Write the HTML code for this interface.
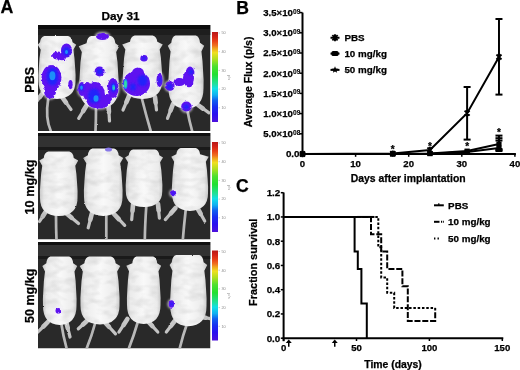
<!DOCTYPE html>
<html><head><meta charset="utf-8"><style>
html,body{margin:0;padding:0;background:#fff;}
body{width:520px;height:370px;overflow:hidden;}
svg{display:block;}
</style></head><body>
<svg width="520" height="370" viewBox="0 0 520 370">
<defs>
<linearGradient id="cbar" x1="0" y1="0" x2="0" y2="1">
<stop offset="0" stop-color="#b81818"/><stop offset="0.05" stop-color="#d42418"/><stop offset="0.1" stop-color="#e84018"/>
<stop offset="0.15" stop-color="#f07020"/><stop offset="0.18" stop-color="#f0a020"/><stop offset="0.23" stop-color="#f0e020"/>
<stop offset="0.3" stop-color="#b0e020"/><stop offset="0.38" stop-color="#50e030"/><stop offset="0.47" stop-color="#20e030"/>
<stop offset="0.58" stop-color="#20e0a0"/><stop offset="0.63" stop-color="#10e0e8"/><stop offset="0.7" stop-color="#10b0f0"/>
<stop offset="0.76" stop-color="#1060f0"/><stop offset="0.83" stop-color="#1830f0"/><stop offset="0.91" stop-color="#2810f0"/>
<stop offset="1" stop-color="#4c10dc"/>
</linearGradient>
<clipPath id="clipP1"><rect x="38" y="25" width="172.5" height="106"/></clipPath>
<clipPath id="clipP2"><rect x="38" y="133" width="172.5" height="106.5"/></clipPath>
<clipPath id="clipP3"><rect x="38" y="242" width="172.5" height="106.5"/></clipPath>
<filter id="soft" x="-10%" y="-10%" width="120%" height="120%" color-interpolation-filters="sRGB"><feTurbulence type="fractalNoise" baseFrequency="0.35" numOctaves="2" seed="7" result="t"/><feDisplacementMap in="SourceGraphic" in2="t" scale="1.6" xChannelSelector="R" yChannelSelector="G" result="d"/><feTurbulence type="fractalNoise" baseFrequency="0.08 0.14" numOctaves="2" seed="11" result="n"/><feColorMatrix in="n" type="matrix" values="0 0 0 0 0.6  0 0 0 0 0.6  0 0 0 0 0.6  0.5 0 0 0 -0.21" result="sh"/><feComposite in="sh" in2="d" operator="in" result="shin"/><feMerge result="m"><feMergeNode in="d"/><feMergeNode in="shin"/></feMerge><feGaussianBlur in="m" stdDeviation="0.6"/></filter>
<filter id="soft2" x="-10%" y="-10%" width="120%" height="120%" color-interpolation-filters="sRGB"><feTurbulence type="fractalNoise" baseFrequency="0.4" numOctaves="2" seed="3" result="t"/><feDisplacementMap in="SourceGraphic" in2="t" scale="2.6" xChannelSelector="R" yChannelSelector="G"/><feGaussianBlur stdDeviation="0.35"/></filter>
<filter id="soft3" x="-20%" y="-20%" width="140%" height="140%"><feGaussianBlur stdDeviation="0.9"/></filter>
<filter id="soft4" x="-20%" y="-20%" width="140%" height="140%"><feGaussianBlur stdDeviation="0.7"/></filter>
<filter id="halo" x="-20%" y="-20%" width="140%" height="140%"><feGaussianBlur stdDeviation="1.2"/></filter>
<linearGradient id="mbody" x1="0" y1="0" x2="1" y2="0"><stop offset="0" stop-color="#c8c8c8"/><stop offset="0.12" stop-color="#ebebeb"/><stop offset="0.5" stop-color="#f9f9f9"/><stop offset="0.88" stop-color="#ebebeb"/><stop offset="1" stop-color="#c8c8c8"/></linearGradient>
</defs>
<text x="0.5" y="12.6" font-size="17.8" font-family="'Liberation Sans', Arial, sans-serif" font-weight="bold" stroke="#000" stroke-width="0.25">A</text>
<text x="236.3" y="13.9" font-size="17.6" font-family="'Liberation Sans', Arial, sans-serif" font-weight="bold" stroke="#000" stroke-width="0.25">B</text>
<text x="236.0" y="191.6" font-size="17.6" font-family="'Liberation Sans', Arial, sans-serif" font-weight="bold" stroke="#000" stroke-width="0.25">C</text>
<text x="120.5" y="20.2" text-anchor="middle" font-size="11.8" font-family="'Liberation Sans', Arial, sans-serif" font-weight="bold" stroke="#000" stroke-width="0.25">Day 31</text>
<text transform="translate(34 79.8) rotate(-90)" text-anchor="middle" font-size="12.5" font-family="'Liberation Sans', Arial, sans-serif" font-weight="bold" stroke="#000" stroke-width="0.25">PBS</text>
<text transform="translate(34 187) rotate(-90)" text-anchor="middle" font-size="12.7" font-family="'Liberation Sans', Arial, sans-serif" font-weight="bold" stroke="#000" stroke-width="0.25">10 mg/kg</text>
<text transform="translate(34 295.8) rotate(-90)" text-anchor="middle" font-size="12.5" font-family="'Liberation Sans', Arial, sans-serif" font-weight="bold" stroke="#000" stroke-width="0.25">50 mg/kg</text>
<g clip-path="url(#clipP1)">
<rect x="38" y="25" width="172.5" height="106" fill="#292929"/>
<rect x="38" y="25" width="172.5" height="4" fill="#0c0c0c"/>
<rect x="38" y="29" width="172.5" height="6" fill="#1e1e1e"/>
<g filter="url(#soft)">
<line x1="42" y1="94" x2="39.75" y2="97.15" stroke="#c8c8c8" stroke-width="4.6" stroke-linecap="round"/>
<line x1="39.75" y1="97.15" x2="37" y2="101" stroke="#c4c4c4" stroke-width="3.2" stroke-linecap="round"/>
<line x1="62" y1="97" x2="66.05" y2="102.62" stroke="#c8c8c8" stroke-width="4.6" stroke-linecap="round"/>
<line x1="66.05" y1="102.62" x2="71" y2="109.5" stroke="#c4c4c4" stroke-width="3.2" stroke-linecap="round"/>
<path d="M48.2,99 Q45,118 50.8,131" fill="none" stroke="#bababa" stroke-width="2.7" stroke-linecap="round"/>
<path d="M44.42,36.00 L68.10,36.00 Q71.80,36.63 72.54,42.30 L76.24,44.82 L73.28,49.86 Q74.76,58.05 75.13,67.50 Q75.87,75.06 75.50,81.36 Q75.50,98.37 57.00,99.00 Q38.50,98.37 38.50,81.36 Q38.13,75.06 38.87,67.50 Q39.24,58.05 40.72,49.86 L37.76,44.82 L39.98,42.30 Q40.72,36.63 44.42,36.00 Z" fill="url(#mbody)"/>
<line x1="86.8" y1="105" x2="83.16" y2="110.98" stroke="#c8c8c8" stroke-width="4.6" stroke-linecap="round"/>
<line x1="83.16" y1="110.98" x2="78.7" y2="118.3" stroke="#c4c4c4" stroke-width="3.2" stroke-linecap="round"/>
<line x1="108.5" y1="105" x2="108.95" y2="112.20" stroke="#c8c8c8" stroke-width="4.6" stroke-linecap="round"/>
<line x1="108.95" y1="112.20" x2="109.5" y2="121" stroke="#c4c4c4" stroke-width="3.2" stroke-linecap="round"/>
<path d="M96,108 Q96,120 95.5,131" fill="none" stroke="#bababa" stroke-width="2.7" stroke-linecap="round"/>
<path d="M91.20,36.00 L110.70,36.00 Q114.60,36.73 115.38,43.25 L119.28,46.15 L116.16,51.95 Q117.72,61.38 118.11,72.25 Q118.89,80.95 118.50,88.20 Q118.50,107.78 99.00,108.50 Q79.50,107.78 79.50,88.20 Q79.11,80.95 79.89,72.25 Q80.28,61.38 81.84,51.95 L78.72,46.15 L86.52,43.25 Q87.30,36.73 91.20,36.00 Z" fill="url(#mbody)"/>
<line x1="129" y1="96" x2="126.30" y2="102.30" stroke="#c8c8c8" stroke-width="4.6" stroke-linecap="round"/>
<line x1="126.30" y1="102.30" x2="123" y2="110" stroke="#c4c4c4" stroke-width="3.2" stroke-linecap="round"/>
<line x1="155" y1="97" x2="155.68" y2="102.85" stroke="#c8c8c8" stroke-width="4.6" stroke-linecap="round"/>
<line x1="155.68" y1="102.85" x2="156.5" y2="110" stroke="#c4c4c4" stroke-width="3.2" stroke-linecap="round"/>
<path d="M142,99 Q146,115 150.7,131" fill="none" stroke="#bababa" stroke-width="2.7" stroke-linecap="round"/>
<path d="M134.70,35.50 L152.64,35.50 Q156.54,36.13 157.32,41.85 L162.78,44.39 L159.66,49.47 Q161.22,57.72 161.61,67.25 Q162.39,74.87 162.00,81.22 Q162.00,98.37 142.50,99.00 Q123.00,98.37 123.00,81.22 Q122.61,74.87 123.39,67.25 Q123.78,57.72 125.34,49.47 L122.22,44.39 L130.02,41.85 Q130.80,36.13 134.70,35.50 Z" fill="url(#mbody)"/>
<line x1="173" y1="104" x2="170.53" y2="110.48" stroke="#c8c8c8" stroke-width="4.6" stroke-linecap="round"/>
<line x1="170.53" y1="110.48" x2="167.5" y2="118.4" stroke="#c4c4c4" stroke-width="3.2" stroke-linecap="round"/>
<line x1="198" y1="105" x2="202.95" y2="108.56" stroke="#c8c8c8" stroke-width="4.6" stroke-linecap="round"/>
<line x1="202.95" y1="108.56" x2="209" y2="112.9" stroke="#c4c4c4" stroke-width="3.2" stroke-linecap="round"/>
<path d="M186.9,108 Q189,120 192.4,132" fill="none" stroke="#bababa" stroke-width="2.7" stroke-linecap="round"/>
<path d="M175.50,35.50 L195.80,35.50 Q199.30,36.23 200.00,42.82 L204.20,45.75 L201.40,51.60 Q202.80,61.12 203.15,72.10 Q203.85,80.88 203.50,88.20 Q203.50,107.97 186.00,108.70 Q168.50,107.97 168.50,88.20 Q168.15,80.88 168.85,72.10 Q169.20,61.12 170.60,51.60 L167.80,45.75 L171.30,42.82 Q172.00,36.23 175.50,35.50 Z" fill="url(#mbody)"/>
</g>
<g filter="url(#halo)" opacity="0.7">
<ellipse cx="66.5" cy="50.5" rx="6.8" ry="8.3" fill="#f4eeff"/>
<ellipse cx="57.5" cy="55.5" rx="6.8" ry="5.3" fill="#f4eeff"/>
<ellipse cx="62" cy="57" rx="5.3" ry="4.5" fill="#f4eeff"/>
<ellipse cx="51.5" cy="78" rx="11.3" ry="14.3" fill="#f4eeff"/>
<ellipse cx="50" cy="91" rx="7.3" ry="8.8" fill="#f4eeff"/>
<ellipse cx="70.5" cy="84.6" rx="3.5" ry="5.8999999999999995" fill="#f4eeff"/>
<ellipse cx="102.5" cy="36.5" rx="7.8" ry="4.8" fill="#f4eeff"/>
<ellipse cx="99.6" cy="71.5" rx="6.3" ry="6.3" fill="#f4eeff"/>
<ellipse cx="95" cy="95" rx="11.3" ry="14.3" fill="#f4eeff"/>
<ellipse cx="82" cy="89" rx="5.1" ry="8.3" fill="#f4eeff"/>
<ellipse cx="113" cy="88" rx="6.8" ry="11.3" fill="#f4eeff"/>
<ellipse cx="100" cy="103" rx="10.3" ry="6.8" fill="#f4eeff"/>
<ellipse cx="88" cy="94" rx="6.3" ry="7.3" fill="#f4eeff"/>
<ellipse cx="107" cy="99" rx="6.3" ry="6.3" fill="#f4eeff"/>
<ellipse cx="87" cy="87" rx="5.3" ry="6.3" fill="#f4eeff"/>
<ellipse cx="144" cy="58.2" rx="4.9" ry="4.5" fill="#f4eeff"/>
<ellipse cx="136.5" cy="83.5" rx="14.8" ry="13.8" fill="#f4eeff"/>
<ellipse cx="128" cy="84" rx="6.3" ry="9.3" fill="#f4eeff"/>
<ellipse cx="138" cy="73" rx="7.3" ry="6.8" fill="#f4eeff"/>
<ellipse cx="159.5" cy="80" rx="4.3" ry="8.3" fill="#f4eeff"/>
<ellipse cx="170" cy="86" rx="5.8999999999999995" ry="6.1" fill="#f4eeff"/>
<ellipse cx="179.5" cy="82" rx="7.3" ry="5.3" fill="#f4eeff"/>
<ellipse cx="190" cy="73" rx="5.6" ry="7.8" fill="#f4eeff"/>
<ellipse cx="189" cy="83" rx="5.6" ry="5.6" fill="#f4eeff"/>
<ellipse cx="188.5" cy="78" rx="6.8" ry="8.8" fill="#f4eeff"/>
<ellipse cx="186.4" cy="106.5" rx="6.5" ry="6.3" fill="#f4eeff"/>
</g>
<g filter="url(#soft2)">
<ellipse cx="66.5" cy="50.5" rx="5.5" ry="7" fill="#5e12f0"/>
<ellipse cx="57.5" cy="55.5" rx="5.5" ry="4" fill="#5e12f0"/>
<ellipse cx="62" cy="57" rx="4" ry="3.2" fill="#5e12f0"/>
<ellipse cx="51.5" cy="78" rx="10" ry="13" fill="#5e12f0"/>
<ellipse cx="50" cy="91" rx="6" ry="7.5" fill="#5e12f0"/>
<ellipse cx="70.5" cy="84.6" rx="2.2" ry="4.6" fill="#5e12f0"/>
<ellipse cx="102.5" cy="36.5" rx="6.5" ry="3.5" fill="#5e12f0"/>
<ellipse cx="99.6" cy="71.5" rx="5" ry="5" fill="#5e12f0"/>
<ellipse cx="95" cy="95" rx="10" ry="13" fill="#5e12f0"/>
<ellipse cx="82" cy="89" rx="3.8" ry="7" fill="#5e12f0"/>
<ellipse cx="113" cy="88" rx="5.5" ry="10" fill="#5e12f0"/>
<ellipse cx="100" cy="103" rx="9" ry="5.5" fill="#5e12f0"/>
<ellipse cx="88" cy="94" rx="5" ry="6" fill="#5e12f0"/>
<ellipse cx="107" cy="99" rx="5" ry="5" fill="#5e12f0"/>
<ellipse cx="87" cy="87" rx="4" ry="5" fill="#5e12f0"/>
<ellipse cx="144" cy="58.2" rx="3.6" ry="3.2" fill="#5e12f0"/>
<ellipse cx="136.5" cy="83.5" rx="13.5" ry="12.5" fill="#5e12f0"/>
<ellipse cx="128" cy="84" rx="5" ry="8" fill="#5e12f0"/>
<ellipse cx="138" cy="73" rx="6" ry="5.5" fill="#5e12f0"/>
<ellipse cx="159.5" cy="80" rx="3" ry="7" fill="#5e12f0"/>
<ellipse cx="170" cy="86" rx="4.6" ry="4.8" fill="#5e12f0"/>
<ellipse cx="179.5" cy="82" rx="6" ry="4" fill="#5e12f0"/>
<ellipse cx="190" cy="73" rx="4.3" ry="6.5" fill="#5e12f0"/>
<ellipse cx="189" cy="83" rx="4.3" ry="4.3" fill="#5e12f0"/>
<ellipse cx="188.5" cy="78" rx="5.5" ry="7.5" fill="#5e12f0"/>
<ellipse cx="186.4" cy="106.5" rx="5.2" ry="5" fill="#5e12f0"/>
</g>
<g filter="url(#soft3)">
<ellipse cx="66.5" cy="51.5" rx="4" ry="4.5" fill="#2224fa"/>
<ellipse cx="52.5" cy="76.5" rx="6" ry="9" fill="#2224fa"/>
<ellipse cx="99.6" cy="71.5" rx="3" ry="3" fill="#2224fa"/>
<ellipse cx="94" cy="96" rx="6" ry="7.5" fill="#2224fa"/>
<ellipse cx="81.5" cy="87.5" rx="2.2" ry="3.5" fill="#2224fa"/>
<ellipse cx="113.5" cy="87.5" rx="3" ry="5" fill="#2224fa"/>
<ellipse cx="144" cy="58.2" rx="2" ry="1.8" fill="#2224fa"/>
<ellipse cx="142.5" cy="80.5" rx="5" ry="5.5" fill="#2224fa"/>
<ellipse cx="133" cy="87" rx="3" ry="3.5" fill="#2224fa"/>
<ellipse cx="160" cy="80.5" rx="1.5" ry="3.5" fill="#2224fa"/>
<ellipse cx="169.5" cy="86.5" rx="2.8" ry="2.8" fill="#2224fa"/>
<ellipse cx="191" cy="72" rx="2.2" ry="2.8" fill="#2224fa"/>
<ellipse cx="186.4" cy="106.8" rx="2.8" ry="2.6" fill="#2224fa"/>
</g>
<g filter="url(#soft4)">
<ellipse cx="66.5" cy="52" rx="1.5" ry="2" fill="#1c90f8"/>
<ellipse cx="52.4" cy="75.7" rx="3" ry="4.5" fill="#1c90f8"/>
<ellipse cx="96" cy="98.5" rx="2.5" ry="3.2" fill="#1c90f8"/>
<ellipse cx="81.5" cy="87.6" rx="1.3" ry="2.2" fill="#1c90f8"/>
<ellipse cx="113.5" cy="87.5" rx="1.5" ry="3" fill="#1c90f8"/>
<ellipse cx="125.5" cy="84" rx="2" ry="5" fill="#1c90f8"/>
<ellipse cx="125.5" cy="84" rx="1.3" ry="3.5" fill="#30e0a0"/>
<ellipse cx="114" cy="88" rx="0.8" ry="1.8" fill="#30e0a0"/>
</g>
</g>
<g clip-path="url(#clipP2)">
<rect x="38" y="133" width="172.5" height="106.5" fill="#292929"/>
<rect x="38" y="133" width="172.5" height="3" fill="#101010"/>
<rect x="38" y="136" width="172.5" height="11" fill="#323232"/>
<rect x="38" y="147" width="172.5" height="3" fill="#1a1a1a"/>
<g filter="url(#soft)">
<line x1="45.5" y1="212" x2="42.80" y2="216.28" stroke="#c8c8c8" stroke-width="4.6" stroke-linecap="round"/>
<line x1="42.80" y1="216.28" x2="39.5" y2="221.5" stroke="#c4c4c4" stroke-width="3.2" stroke-linecap="round"/>
<line x1="66" y1="213" x2="71.62" y2="217.72" stroke="#c8c8c8" stroke-width="4.6" stroke-linecap="round"/>
<line x1="71.62" y1="217.72" x2="78.5" y2="223.5" stroke="#c4c4c4" stroke-width="3.2" stroke-linecap="round"/>
<path d="M56,215 Q56,228 56.5,240" fill="none" stroke="#bababa" stroke-width="2.7" stroke-linecap="round"/>
<path d="M48.25,151.50 L69.25,151.50 Q73.00,152.15 73.75,157.95 L78.25,160.53 L75.25,165.69 Q76.75,174.07 77.12,183.75 Q77.88,191.49 77.50,197.94 Q77.50,215.35 58.75,216.00 Q40.00,215.35 40.00,197.94 Q39.62,191.49 40.38,183.75 Q40.75,174.07 42.25,165.69 L39.25,160.53 L43.75,157.95 Q44.50,152.15 48.25,151.50 Z" fill="url(#mbody)"/>
<line x1="92" y1="213" x2="90.29" y2="219.66" stroke="#c8c8c8" stroke-width="4.6" stroke-linecap="round"/>
<line x1="90.29" y1="219.66" x2="88.2" y2="227.8" stroke="#c4c4c4" stroke-width="3.2" stroke-linecap="round"/>
<line x1="114" y1="214" x2="118.81" y2="219.13" stroke="#c8c8c8" stroke-width="4.6" stroke-linecap="round"/>
<line x1="118.81" y1="219.13" x2="124.7" y2="225.4" stroke="#c4c4c4" stroke-width="3.2" stroke-linecap="round"/>
<path d="M106.3,216 Q106.3,230 106.3,240" fill="none" stroke="#bababa" stroke-width="2.7" stroke-linecap="round"/>
<path d="M92.47,148.50 L114.03,148.50 Q117.88,149.18 118.65,155.25 L123.27,157.95 L120.19,163.35 Q121.73,172.12 122.12,182.25 Q122.88,190.35 122.50,197.10 Q122.50,215.32 103.25,216.00 Q84.00,215.32 84.00,197.10 Q83.61,190.35 84.39,182.25 Q84.77,172.12 86.31,163.35 L83.23,157.95 L87.85,155.25 Q88.62,149.18 92.47,148.50 Z" fill="url(#mbody)"/>
<line x1="133.1" y1="204" x2="132.47" y2="211.02" stroke="#c8c8c8" stroke-width="4.6" stroke-linecap="round"/>
<line x1="132.47" y1="211.02" x2="131.7" y2="219.6" stroke="#c4c4c4" stroke-width="3.2" stroke-linecap="round"/>
<line x1="158" y1="204" x2="158.63" y2="210.39" stroke="#c8c8c8" stroke-width="4.6" stroke-linecap="round"/>
<line x1="158.63" y1="210.39" x2="159.4" y2="218.2" stroke="#c4c4c4" stroke-width="3.2" stroke-linecap="round"/>
<path d="M146.3,206 Q145,225 144.8,240" fill="none" stroke="#bababa" stroke-width="2.7" stroke-linecap="round"/>
<path d="M133.10,149.50 L155.00,149.50 Q158.65,150.07 159.38,155.25 L163.03,157.55 L160.11,162.15 Q161.57,169.62 161.94,178.25 Q162.67,185.15 162.30,190.90 Q162.30,206.43 144.05,207.00 Q125.80,206.43 125.80,190.90 Q125.44,185.15 126.16,178.25 Q126.53,169.62 127.99,162.15 L125.07,157.55 L128.72,155.25 Q129.45,150.07 133.10,149.50 Z" fill="url(#mbody)"/>
<line x1="175.5" y1="208" x2="170.91" y2="213.22" stroke="#c8c8c8" stroke-width="4.6" stroke-linecap="round"/>
<line x1="170.91" y1="213.22" x2="165.3" y2="219.6" stroke="#c4c4c4" stroke-width="3.2" stroke-linecap="round"/>
<line x1="197.4" y1="208" x2="200.69" y2="213.85" stroke="#c8c8c8" stroke-width="4.6" stroke-linecap="round"/>
<line x1="200.69" y1="213.85" x2="204.7" y2="221" stroke="#c4c4c4" stroke-width="3.2" stroke-linecap="round"/>
<path d="M185.7,210 Q184,225 182.8,240" fill="none" stroke="#bababa" stroke-width="2.7" stroke-linecap="round"/>
<path d="M180.64,148.00 L195.76,148.00 Q199.36,148.63 200.08,154.30 L208.72,156.82 L205.84,161.86 Q207.28,170.05 207.64,179.50 Q208.36,187.06 208.00,193.36 Q208.00,210.37 190.00,211.00 Q172.00,210.37 172.00,193.36 Q171.64,187.06 172.36,179.50 Q172.72,170.05 174.16,161.86 L171.28,156.82 L176.32,154.30 Q177.04,148.63 180.64,148.00 Z" fill="url(#mbody)"/>
</g>
<g filter="url(#halo)" opacity="0.7">
<ellipse cx="173.3" cy="193.3" rx="4.1" ry="4.3" fill="#f4eeff"/>
</g>
<g filter="url(#soft2)">
<ellipse cx="173.3" cy="193.3" rx="2.8" ry="3" fill="#5e12f0"/>
</g>
<g filter="url(#soft3)">
<ellipse cx="173.3" cy="193.3" rx="1.3" ry="1.5" fill="#2224fa"/>
</g>
<g filter="url(#soft4)">
<ellipse cx="108.5" cy="149.5" rx="3.5" ry="2" fill="#8878e8"/>
</g>
</g>
<g clip-path="url(#clipP3)">
<rect x="38" y="242" width="172.5" height="106.5" fill="#292929"/>
<rect x="38" y="242" width="172.5" height="3" fill="#101010"/>
<rect x="38" y="245" width="172.5" height="11" fill="#323232"/>
<rect x="38" y="256" width="172.5" height="3" fill="#1a1a1a"/>
<g filter="url(#soft)">
<line x1="47.8" y1="322" x2="43.26" y2="326.55" stroke="#c8c8c8" stroke-width="4.6" stroke-linecap="round"/>
<line x1="43.26" y1="326.55" x2="37.7" y2="332.1" stroke="#c4c4c4" stroke-width="3.2" stroke-linecap="round"/>
<line x1="66" y1="321" x2="67.80" y2="328.20" stroke="#c8c8c8" stroke-width="4.6" stroke-linecap="round"/>
<line x1="67.80" y1="328.20" x2="70" y2="337" stroke="#c4c4c4" stroke-width="3.2" stroke-linecap="round"/>
<path d="M61.4,324 Q63,335 66.5,348" fill="none" stroke="#bababa" stroke-width="2.7" stroke-linecap="round"/>
<path d="M50.37,256.50 L69.13,256.50 Q72.48,257.19 73.15,263.35 L77.17,266.09 L74.49,271.57 Q75.83,280.48 76.16,290.75 Q76.84,298.97 76.50,305.82 Q76.50,324.31 59.75,325.00 Q43.00,324.31 43.00,305.82 Q42.66,298.97 43.34,290.75 Q43.67,280.48 45.01,271.57 L42.33,266.09 L46.35,263.35 Q47.02,257.19 50.37,256.50 Z" fill="url(#mbody)"/>
<line x1="86.8" y1="321" x2="82.97" y2="324.51" stroke="#c8c8c8" stroke-width="4.6" stroke-linecap="round"/>
<line x1="82.97" y1="324.51" x2="78.3" y2="328.8" stroke="#c4c4c4" stroke-width="3.2" stroke-linecap="round"/>
<line x1="103.7" y1="321" x2="109.01" y2="326.76" stroke="#c8c8c8" stroke-width="4.6" stroke-linecap="round"/>
<line x1="109.01" y1="326.76" x2="115.5" y2="333.8" stroke="#c4c4c4" stroke-width="3.2" stroke-linecap="round"/>
<path d="M95.2,323 Q92,335 86.8,348" fill="none" stroke="#bababa" stroke-width="2.7" stroke-linecap="round"/>
<path d="M89.08,256.50 L110.92,256.50 Q114.82,257.18 115.60,263.31 L120.28,266.03 L117.16,271.48 Q118.72,280.34 119.11,290.55 Q119.89,298.72 119.50,305.53 Q119.50,323.92 100.00,324.60 Q80.50,323.92 80.50,305.53 Q80.11,298.72 80.89,290.55 Q81.28,280.34 82.84,271.48 L79.72,266.03 L84.40,263.31 Q85.18,257.18 89.08,256.50 Z" fill="url(#mbody)"/>
<line x1="127.4" y1="319" x2="123.58" y2="324.89" stroke="#c8c8c8" stroke-width="4.6" stroke-linecap="round"/>
<line x1="123.58" y1="324.89" x2="118.9" y2="332.1" stroke="#c4c4c4" stroke-width="3.2" stroke-linecap="round"/>
<line x1="147.7" y1="321" x2="152.25" y2="325.95" stroke="#c8c8c8" stroke-width="4.6" stroke-linecap="round"/>
<line x1="152.25" y1="325.95" x2="157.8" y2="332" stroke="#c4c4c4" stroke-width="3.2" stroke-linecap="round"/>
<path d="M137.5,323 Q134,335 129,348" fill="none" stroke="#bababa" stroke-width="2.7" stroke-linecap="round"/>
<path d="M136.38,256.40 L153.13,256.40 Q156.48,257.08 157.15,263.16 L161.17,265.86 L158.49,271.27 Q159.83,280.06 160.16,290.20 Q160.84,298.31 160.50,305.07 Q160.50,323.32 143.75,324.00 Q127.00,323.32 127.00,305.07 Q126.67,298.31 127.33,290.20 Q127.67,280.06 129.01,271.27 L126.33,265.86 L132.36,263.16 Q133.03,257.08 136.38,256.40 Z" fill="url(#mbody)"/>
<line x1="174.7" y1="321" x2="170.92" y2="325.95" stroke="#c8c8c8" stroke-width="4.6" stroke-linecap="round"/>
<line x1="170.92" y1="325.95" x2="166.3" y2="332" stroke="#c4c4c4" stroke-width="3.2" stroke-linecap="round"/>
<line x1="201.8" y1="317" x2="205.62" y2="317.72" stroke="#c8c8c8" stroke-width="4.6" stroke-linecap="round"/>
<line x1="205.62" y1="317.72" x2="210.3" y2="318.6" stroke="#c4c4c4" stroke-width="3.2" stroke-linecap="round"/>
<path d="M186.6,325 Q183,335 179.8,348" fill="none" stroke="#bababa" stroke-width="2.7" stroke-linecap="round"/>
<path d="M176.09,255.00 L199.26,255.00 Q202.88,255.71 203.60,262.13 L207.22,264.98 L204.33,270.69 Q205.78,279.95 206.14,290.65 Q206.86,299.21 206.50,306.34 Q206.50,325.59 188.40,326.30 Q170.30,325.59 170.30,306.34 Q169.94,299.21 170.66,290.65 Q171.02,279.95 172.47,270.69 L169.58,264.98 L171.75,262.13 Q172.47,255.71 176.09,255.00 Z" fill="url(#mbody)"/>
</g>
<g filter="url(#halo)" opacity="0.7">
<ellipse cx="58.3" cy="310.7" rx="4.1" ry="4.1" fill="#f4eeff"/>
<ellipse cx="171.5" cy="304" rx="4.1" ry="5.1" fill="#f4eeff"/>
</g>
<g filter="url(#soft2)">
<ellipse cx="58.3" cy="310.7" rx="2.8" ry="2.8" fill="#5e12f0"/>
<ellipse cx="171.5" cy="304" rx="2.8" ry="3.8" fill="#5e12f0"/>
</g>
<g filter="url(#soft3)">
<ellipse cx="171.7" cy="304" rx="1.4" ry="2" fill="#2224fa"/>
</g>
<g filter="url(#soft4)">
</g>
</g>
<rect x="212" y="32" width="6" height="90" fill="url(#cbar)"/>
<line x1="218.5" y1="33.0" x2="220" y2="33.0" stroke="#999" stroke-width="0.5"/>
<text x="221.5" y="34.3" font-size="3.8" fill="#8a8a8a" font-family="Liberation Sans, Arial, sans-serif">50</text>
<line x1="218.5" y1="51.7" x2="220" y2="51.7" stroke="#999" stroke-width="0.5"/>
<text x="221.5" y="53.0" font-size="3.8" fill="#8a8a8a" font-family="Liberation Sans, Arial, sans-serif">40</text>
<line x1="218.5" y1="70.4" x2="220" y2="70.4" stroke="#999" stroke-width="0.5"/>
<text x="221.5" y="71.7" font-size="3.8" fill="#8a8a8a" font-family="Liberation Sans, Arial, sans-serif">30</text>
<line x1="218.5" y1="89.1" x2="220" y2="89.1" stroke="#999" stroke-width="0.5"/>
<text x="221.5" y="90.4" font-size="3.8" fill="#8a8a8a" font-family="Liberation Sans, Arial, sans-serif">20</text>
<line x1="218.5" y1="107.8" x2="220" y2="107.8" stroke="#999" stroke-width="0.5"/>
<text x="221.5" y="109.1" font-size="3.8" fill="#8a8a8a" font-family="Liberation Sans, Arial, sans-serif">10</text>
<text transform="translate(227.6 77.5) rotate(90)" text-anchor="middle" font-size="4" fill="#8a8a8a" font-family="Liberation Sans, Arial, sans-serif">p/s</text>
<rect x="212" y="142" width="6" height="90" fill="url(#cbar)"/>
<line x1="218.5" y1="143.0" x2="220" y2="143.0" stroke="#999" stroke-width="0.5"/>
<text x="221.5" y="144.3" font-size="3.8" fill="#8a8a8a" font-family="Liberation Sans, Arial, sans-serif">50</text>
<line x1="218.5" y1="161.7" x2="220" y2="161.7" stroke="#999" stroke-width="0.5"/>
<text x="221.5" y="163.0" font-size="3.8" fill="#8a8a8a" font-family="Liberation Sans, Arial, sans-serif">40</text>
<line x1="218.5" y1="180.4" x2="220" y2="180.4" stroke="#999" stroke-width="0.5"/>
<text x="221.5" y="181.7" font-size="3.8" fill="#8a8a8a" font-family="Liberation Sans, Arial, sans-serif">30</text>
<line x1="218.5" y1="199.1" x2="220" y2="199.1" stroke="#999" stroke-width="0.5"/>
<text x="221.5" y="200.4" font-size="3.8" fill="#8a8a8a" font-family="Liberation Sans, Arial, sans-serif">20</text>
<line x1="218.5" y1="217.8" x2="220" y2="217.8" stroke="#999" stroke-width="0.5"/>
<text x="221.5" y="219.1" font-size="3.8" fill="#8a8a8a" font-family="Liberation Sans, Arial, sans-serif">10</text>
<text transform="translate(227.6 187.5) rotate(90)" text-anchor="middle" font-size="4" fill="#8a8a8a" font-family="Liberation Sans, Arial, sans-serif">p/s</text>
<rect x="212" y="250.5" width="6" height="90.0" fill="url(#cbar)"/>
<line x1="218.5" y1="251.5" x2="220" y2="251.5" stroke="#999" stroke-width="0.5"/>
<text x="221.5" y="252.8" font-size="3.8" fill="#8a8a8a" font-family="Liberation Sans, Arial, sans-serif">50</text>
<line x1="218.5" y1="270.2" x2="220" y2="270.2" stroke="#999" stroke-width="0.5"/>
<text x="221.5" y="271.5" font-size="3.8" fill="#8a8a8a" font-family="Liberation Sans, Arial, sans-serif">40</text>
<line x1="218.5" y1="288.9" x2="220" y2="288.9" stroke="#999" stroke-width="0.5"/>
<text x="221.5" y="290.2" font-size="3.8" fill="#8a8a8a" font-family="Liberation Sans, Arial, sans-serif">30</text>
<line x1="218.5" y1="307.6" x2="220" y2="307.6" stroke="#999" stroke-width="0.5"/>
<text x="221.5" y="308.9" font-size="3.8" fill="#8a8a8a" font-family="Liberation Sans, Arial, sans-serif">20</text>
<line x1="218.5" y1="326.3" x2="220" y2="326.3" stroke="#999" stroke-width="0.5"/>
<text x="221.5" y="327.6" font-size="3.8" fill="#8a8a8a" font-family="Liberation Sans, Arial, sans-serif">10</text>
<text transform="translate(227.6 296.0) rotate(90)" text-anchor="middle" font-size="4" fill="#8a8a8a" font-family="Liberation Sans, Arial, sans-serif">p/s</text>
<line x1="302.5" y1="12.6" x2="302.5" y2="155.0" stroke="#000" stroke-width="2"/>
<line x1="301.5" y1="154.0" x2="515.9" y2="154.0" stroke="#000" stroke-width="2"/>
<line x1="299.7" y1="154.00" x2="302.5" y2="154.00" stroke="#000" stroke-width="1.5"/>
<text x="299.5" y="157.40" text-anchor="end" font-size="9.8" font-family="'Liberation Sans', Arial, sans-serif" font-weight="bold" stroke="#000" stroke-width="0.25">0.0</text>
<line x1="299.7" y1="133.80" x2="302.5" y2="133.80" stroke="#000" stroke-width="1.5"/>
<text x="292.9" y="137.20" text-anchor="end" font-size="9.6" font-family="'Liberation Sans', Arial, sans-serif" font-weight="bold" stroke="#000" stroke-width="0.25">5.0×10</text>
<text x="293.1" y="134.80" font-size="6.6" font-family="'Liberation Sans', Arial, sans-serif" font-weight="bold" stroke="#000" stroke-width="0.12">08</text>
<line x1="299.7" y1="113.60" x2="302.5" y2="113.60" stroke="#000" stroke-width="1.5"/>
<text x="292.9" y="117.00" text-anchor="end" font-size="9.6" font-family="'Liberation Sans', Arial, sans-serif" font-weight="bold" stroke="#000" stroke-width="0.25">1.0×10</text>
<text x="293.1" y="114.60" font-size="6.6" font-family="'Liberation Sans', Arial, sans-serif" font-weight="bold" stroke="#000" stroke-width="0.12">09</text>
<line x1="299.7" y1="93.40" x2="302.5" y2="93.40" stroke="#000" stroke-width="1.5"/>
<text x="292.9" y="96.80" text-anchor="end" font-size="9.6" font-family="'Liberation Sans', Arial, sans-serif" font-weight="bold" stroke="#000" stroke-width="0.25">1.5×10</text>
<text x="293.1" y="94.40" font-size="6.6" font-family="'Liberation Sans', Arial, sans-serif" font-weight="bold" stroke="#000" stroke-width="0.12">09</text>
<line x1="299.7" y1="73.20" x2="302.5" y2="73.20" stroke="#000" stroke-width="1.5"/>
<text x="292.9" y="76.60" text-anchor="end" font-size="9.6" font-family="'Liberation Sans', Arial, sans-serif" font-weight="bold" stroke="#000" stroke-width="0.25">2.0×10</text>
<text x="293.1" y="74.20" font-size="6.6" font-family="'Liberation Sans', Arial, sans-serif" font-weight="bold" stroke="#000" stroke-width="0.12">09</text>
<line x1="299.7" y1="53.00" x2="302.5" y2="53.00" stroke="#000" stroke-width="1.5"/>
<text x="292.9" y="56.40" text-anchor="end" font-size="9.6" font-family="'Liberation Sans', Arial, sans-serif" font-weight="bold" stroke="#000" stroke-width="0.25">2.5×10</text>
<text x="293.1" y="54.00" font-size="6.6" font-family="'Liberation Sans', Arial, sans-serif" font-weight="bold" stroke="#000" stroke-width="0.12">09</text>
<line x1="299.7" y1="32.80" x2="302.5" y2="32.80" stroke="#000" stroke-width="1.5"/>
<text x="292.9" y="36.20" text-anchor="end" font-size="9.6" font-family="'Liberation Sans', Arial, sans-serif" font-weight="bold" stroke="#000" stroke-width="0.25">3.0×10</text>
<text x="293.1" y="33.80" font-size="6.6" font-family="'Liberation Sans', Arial, sans-serif" font-weight="bold" stroke="#000" stroke-width="0.12">09</text>
<line x1="299.7" y1="12.60" x2="302.5" y2="12.60" stroke="#000" stroke-width="1.5"/>
<text x="292.9" y="16.00" text-anchor="end" font-size="9.6" font-family="'Liberation Sans', Arial, sans-serif" font-weight="bold" stroke="#000" stroke-width="0.25">3.5×10</text>
<text x="293.1" y="13.60" font-size="6.6" font-family="'Liberation Sans', Arial, sans-serif" font-weight="bold" stroke="#000" stroke-width="0.12">09</text>
<line x1="302.50" y1="154.0" x2="302.50" y2="156.8" stroke="#000" stroke-width="1.5"/>
<text x="302.50" y="166.8" text-anchor="middle" font-size="9.6" font-family="'Liberation Sans', Arial, sans-serif" font-weight="bold" stroke="#000" stroke-width="0.25">0</text>
<line x1="355.60" y1="154.0" x2="355.60" y2="156.8" stroke="#000" stroke-width="1.5"/>
<text x="355.60" y="166.8" text-anchor="middle" font-size="9.6" font-family="'Liberation Sans', Arial, sans-serif" font-weight="bold" stroke="#000" stroke-width="0.25">10</text>
<line x1="408.70" y1="154.0" x2="408.70" y2="156.8" stroke="#000" stroke-width="1.5"/>
<text x="408.70" y="166.8" text-anchor="middle" font-size="9.6" font-family="'Liberation Sans', Arial, sans-serif" font-weight="bold" stroke="#000" stroke-width="0.25">20</text>
<line x1="461.80" y1="154.0" x2="461.80" y2="156.8" stroke="#000" stroke-width="1.5"/>
<text x="461.80" y="166.8" text-anchor="middle" font-size="9.6" font-family="'Liberation Sans', Arial, sans-serif" font-weight="bold" stroke="#000" stroke-width="0.25">30</text>
<line x1="514.90" y1="154.0" x2="514.90" y2="156.8" stroke="#000" stroke-width="1.5"/>
<text x="514.90" y="166.8" text-anchor="middle" font-size="9.6" font-family="'Liberation Sans', Arial, sans-serif" font-weight="bold" stroke="#000" stroke-width="0.25">40</text>
<text x="408.2" y="182" text-anchor="middle" font-size="10.4" font-family="'Liberation Sans', Arial, sans-serif" font-weight="bold" stroke="#000" stroke-width="0.25">Days after implantation</text>
<text transform="translate(251.6 81.9) rotate(-90)" text-anchor="middle" font-size="10.5" font-family="'Liberation Sans', Arial, sans-serif" font-weight="bold" stroke="#000" stroke-width="0.25">Average Flux (p/s)</text>
<polyline points="302.50,154.00 392.77,154.00 429.94,153.60 467.11,150.97 498.97,143.90" fill="none" stroke="#000" stroke-width="2"/>
<polyline points="302.50,154.00 392.77,154.00 429.94,153.80 467.11,151.98 498.97,147.94" fill="none" stroke="#000" stroke-width="2"/>
<polyline points="302.50,154.00 392.77,153.60 429.94,149.96 467.11,113.20 498.97,57.04" fill="none" stroke="#000" stroke-width="2"/>
<line x1="467.11" y1="87" x2="467.11" y2="139.6" stroke="#000" stroke-width="2"/><line x1="463.61" y1="87" x2="470.61" y2="87" stroke="#000" stroke-width="2"/><line x1="463.61" y1="139.6" x2="470.61" y2="139.6" stroke="#000" stroke-width="2"/>
<line x1="498.97" y1="19" x2="498.97" y2="94.6" stroke="#000" stroke-width="2"/><line x1="495.47" y1="19" x2="502.47" y2="19" stroke="#000" stroke-width="2"/><line x1="495.47" y1="94.6" x2="502.47" y2="94.6" stroke="#000" stroke-width="2"/>
<line x1="498.97" y1="135.6" x2="498.97" y2="151" stroke="#000" stroke-width="2"/><line x1="495.47" y1="135.6" x2="502.47" y2="135.6" stroke="#000" stroke-width="2"/><line x1="495.47" y1="151" x2="502.47" y2="151" stroke="#000" stroke-width="2"/>
<line x1="498.97" y1="138.2" x2="498.97" y2="150" stroke="#000" stroke-width="2"/><line x1="495.47" y1="138.2" x2="502.47" y2="138.2" stroke="#000" stroke-width="2"/><line x1="495.47" y1="150" x2="502.47" y2="150" stroke="#000" stroke-width="2"/>
<line x1="498.97" y1="140.5" x2="498.97" y2="149" stroke="#000" stroke-width="2"/><line x1="495.47" y1="140.5" x2="502.47" y2="140.5" stroke="#000" stroke-width="2"/><line x1="495.47" y1="149" x2="502.47" y2="149" stroke="#000" stroke-width="2"/>
<rect x="299.90" y="151.60" width="5.2" height="4.8" fill="#000"/>
<rect x="390.17" y="151.60" width="5.2" height="4.8" fill="#000"/>
<rect x="427.34" y="151.20" width="5.2" height="4.8" fill="#000"/>
<rect x="464.51" y="148.57" width="5.2" height="4.8" fill="#000"/>
<rect x="496.37" y="141.50" width="5.2" height="4.8" fill="#000"/>
<rect x="299.90" y="151.60" width="5.2" height="4.8" fill="#000"/>
<rect x="390.17" y="151.60" width="5.2" height="4.8" fill="#000"/>
<rect x="427.34" y="151.40" width="5.2" height="4.8" fill="#000"/>
<rect x="464.51" y="149.58" width="5.2" height="4.8" fill="#000"/>
<rect x="496.37" y="145.54" width="5.2" height="4.8" fill="#000"/>
<path d="M300.00,151.50 L305.00,156.50 M300.00,156.50 L305.00,151.50 M302.50,150.80 L302.50,157.20" stroke="#000" stroke-width="1.9" fill="none"/>
<path d="M390.27,151.10 L395.27,156.09 M390.27,156.09 L395.27,151.10 M392.77,150.40 L392.77,156.80" stroke="#000" stroke-width="1.9" fill="none"/>
<path d="M427.44,147.46 L432.44,152.46 M427.44,152.46 L432.44,147.46 M429.94,146.76 L429.94,153.16" stroke="#000" stroke-width="1.9" fill="none"/>
<path d="M464.61,110.70 L469.61,115.69 M464.61,115.69 L469.61,110.70 M467.11,110.00 L467.11,116.40" stroke="#000" stroke-width="1.9" fill="none"/>
<path d="M496.47,54.54 L501.47,59.54 M496.47,59.54 L501.47,54.54 M498.97,53.84 L498.97,60.24" stroke="#000" stroke-width="1.9" fill="none"/>
<text x="392.77" y="152.5" text-anchor="middle" font-size="10" font-family="'Liberation Sans', Arial, sans-serif" font-weight="bold" stroke="#000" stroke-width="0.25">*</text>
<text x="429.94" y="149.5" text-anchor="middle" font-size="10" font-family="'Liberation Sans', Arial, sans-serif" font-weight="bold" stroke="#000" stroke-width="0.25">*</text>
<text x="467.11" y="149.79999999999998" text-anchor="middle" font-size="10" font-family="'Liberation Sans', Arial, sans-serif" font-weight="bold" stroke="#000" stroke-width="0.25">*</text>
<text x="498.97" y="136.0" text-anchor="middle" font-size="10" font-family="'Liberation Sans', Arial, sans-serif" font-weight="bold" stroke="#000" stroke-width="0.25">*</text>
<line x1="330.5" y1="37.75" x2="339.5" y2="37.75" stroke="#000" stroke-width="2"/>
<path d="M332.35,35.10 L337.65,40.40 M332.35,40.40 L337.65,35.10 M335.00,34.35 L335.00,41.15" stroke="#000" stroke-width="1.9" fill="none"/>
<text x="344.4" y="41.15" font-size="9.8" font-family="'Liberation Sans', Arial, sans-serif" font-weight="bold" stroke="#000" stroke-width="0.25">PBS</text>
<line x1="330.5" y1="53.6" x2="339.5" y2="53.6" stroke="#000" stroke-width="2"/>
<rect x="331.5" y="51.1" width="7" height="5" rx="1.5" fill="#000"/>
<text x="344.4" y="57.00" font-size="9.8" font-family="'Liberation Sans', Arial, sans-serif" font-weight="bold" stroke="#000" stroke-width="0.25">10 mg/kg</text>
<line x1="330.5" y1="69.9" x2="339.5" y2="69.9" stroke="#000" stroke-width="2"/>
<polygon points="335.00,66.30 335.95,68.59 338.42,68.79 336.54,70.40 337.12,72.81 335.00,71.52 332.88,72.81 333.46,70.40 331.58,68.79 334.05,68.59" fill="#000"/>
<text x="344.4" y="73.30" font-size="9.8" font-family="'Liberation Sans', Arial, sans-serif" font-weight="bold" stroke="#000" stroke-width="0.25">50 mg/kg</text>
<line x1="283.6" y1="192.5" x2="283.6" y2="341.2" stroke="#000" stroke-width="2"/>
<line x1="282.6" y1="338.2" x2="503.3" y2="338.2" stroke="#000" stroke-width="2"/>
<line x1="280.8" y1="338.20" x2="283.6" y2="338.20" stroke="#000" stroke-width="1.5"/>
<text x="280.3" y="341.60" text-anchor="end" font-size="9.8" font-family="'Liberation Sans', Arial, sans-serif" font-weight="bold" stroke="#000" stroke-width="0.25">0.0</text>
<line x1="280.8" y1="313.95" x2="283.6" y2="313.95" stroke="#000" stroke-width="1.5"/>
<text x="280.3" y="317.35" text-anchor="end" font-size="9.8" font-family="'Liberation Sans', Arial, sans-serif" font-weight="bold" stroke="#000" stroke-width="0.25">0.2</text>
<line x1="280.8" y1="289.70" x2="283.6" y2="289.70" stroke="#000" stroke-width="1.5"/>
<text x="280.3" y="293.10" text-anchor="end" font-size="9.8" font-family="'Liberation Sans', Arial, sans-serif" font-weight="bold" stroke="#000" stroke-width="0.25">0.4</text>
<line x1="280.8" y1="265.45" x2="283.6" y2="265.45" stroke="#000" stroke-width="1.5"/>
<text x="280.3" y="268.85" text-anchor="end" font-size="9.8" font-family="'Liberation Sans', Arial, sans-serif" font-weight="bold" stroke="#000" stroke-width="0.25">0.6</text>
<line x1="280.8" y1="241.20" x2="283.6" y2="241.20" stroke="#000" stroke-width="1.5"/>
<text x="280.3" y="244.60" text-anchor="end" font-size="9.8" font-family="'Liberation Sans', Arial, sans-serif" font-weight="bold" stroke="#000" stroke-width="0.25">0.8</text>
<line x1="280.8" y1="216.95" x2="283.6" y2="216.95" stroke="#000" stroke-width="1.5"/>
<text x="280.3" y="220.35" text-anchor="end" font-size="9.8" font-family="'Liberation Sans', Arial, sans-serif" font-weight="bold" stroke="#000" stroke-width="0.25">1.0</text>
<line x1="280.8" y1="192.70" x2="283.6" y2="192.70" stroke="#000" stroke-width="1.5"/>
<text x="280.3" y="196.10" text-anchor="end" font-size="9.8" font-family="'Liberation Sans', Arial, sans-serif" font-weight="bold" stroke="#000" stroke-width="0.25">1.2</text>
<line x1="283.60" y1="338.2" x2="283.60" y2="341.0" stroke="#000" stroke-width="1.5"/>
<text x="283.60" y="351.4" text-anchor="middle" font-size="9.6" font-family="'Liberation Sans', Arial, sans-serif" font-weight="bold" stroke="#000" stroke-width="0.25">0</text>
<line x1="356.50" y1="338.2" x2="356.50" y2="341.0" stroke="#000" stroke-width="1.5"/>
<text x="356.50" y="351.4" text-anchor="middle" font-size="9.6" font-family="'Liberation Sans', Arial, sans-serif" font-weight="bold" stroke="#000" stroke-width="0.25">50</text>
<line x1="429.40" y1="338.2" x2="429.40" y2="341.0" stroke="#000" stroke-width="1.5"/>
<text x="429.40" y="351.4" text-anchor="middle" font-size="9.6" font-family="'Liberation Sans', Arial, sans-serif" font-weight="bold" stroke="#000" stroke-width="0.25">100</text>
<line x1="502.30" y1="338.2" x2="502.30" y2="341.0" stroke="#000" stroke-width="1.5"/>
<text x="502.30" y="351.4" text-anchor="middle" font-size="9.6" font-family="'Liberation Sans', Arial, sans-serif" font-weight="bold" stroke="#000" stroke-width="0.25">150</text>
<text x="393" y="368.2" text-anchor="middle" font-size="10.4" font-family="'Liberation Sans', Arial, sans-serif" font-weight="bold" stroke="#000" stroke-width="0.25">Time (days)</text>
<text transform="translate(256.6 262.3) rotate(-90)" text-anchor="middle" font-size="10.9" font-family="'Liberation Sans', Arial, sans-serif" font-weight="bold" stroke="#000" stroke-width="0.25">Fraction survival</text>
<polygon points="288.75,339.5 285.75,343.09999999999997 291.75,343.09999999999997" fill="#000"/>
<line x1="288.75" y1="341.2" x2="288.75" y2="346.8" stroke="#000" stroke-width="1.5"/>
<polygon points="334.75,339.5 331.75,343.09999999999997 337.75,343.09999999999997" fill="#000"/>
<line x1="334.75" y1="341.2" x2="334.75" y2="346.8" stroke="#000" stroke-width="1.5"/>
<polyline points="283.60,216.95 354.60,216.95 354.60,251.59 357.80,251.59 357.80,268.91 361.40,268.91 361.40,303.56 366.80,303.56 366.80,338.20" fill="none" stroke="#000" stroke-width="2"/>
<polyline points="354.60,216.95 371.00,216.95 371.00,234.27 381.20,234.27 381.20,251.59 387.20,251.59 387.20,268.91 402.40,268.91 402.40,286.24 407.80,286.24 407.80,320.88 435.20,320.88 435.20,307.89" fill="none" stroke="#000" stroke-width="2" stroke-dasharray="6 1.8"/>
<line x1="357.2" y1="216.95" x2="374.5" y2="216.95" stroke="#000" stroke-width="2"/>
<polyline points="371.00,216.95 378.30,216.95 378.30,247.26 381.20,247.26 381.20,277.57 387.20,277.57 387.20,292.73 394.20,292.73 394.20,307.89 435.20,307.89" fill="none" stroke="#000" stroke-width="2" stroke-dasharray="2.5 1.8"/>
<line x1="434" y1="205.3" x2="443.8" y2="205.3" stroke="#000" stroke-width="2"/>
<line x1="438.8" y1="203.3" x2="438.8" y2="205.3" stroke="#000" stroke-width="1.2"/>
<line x1="434" y1="221.8" x2="439.5" y2="221.8" stroke="#000" stroke-width="2"/>
<line x1="441" y1="221.8" x2="442.2" y2="221.8" stroke="#000" stroke-width="2"/>
<line x1="443.2" y1="221.8" x2="444" y2="221.8" stroke="#000" stroke-width="2"/>
<line x1="434" y1="238.6" x2="435.4" y2="238.6" stroke="#000" stroke-width="2"/>
<line x1="437.5" y1="238.6" x2="438.9" y2="238.6" stroke="#000" stroke-width="2"/>
<text x="448.1" y="208.70" font-size="9.8" font-family="'Liberation Sans', Arial, sans-serif" font-weight="bold" stroke="#000" stroke-width="0.25">PBS</text>
<text x="448.1" y="225.20" font-size="9.8" font-family="'Liberation Sans', Arial, sans-serif" font-weight="bold" stroke="#000" stroke-width="0.25">10 mg/kg</text>
<text x="448.1" y="242.00" font-size="9.8" font-family="'Liberation Sans', Arial, sans-serif" font-weight="bold" stroke="#000" stroke-width="0.25">50 mg/kg</text>
</svg>
</body></html>
